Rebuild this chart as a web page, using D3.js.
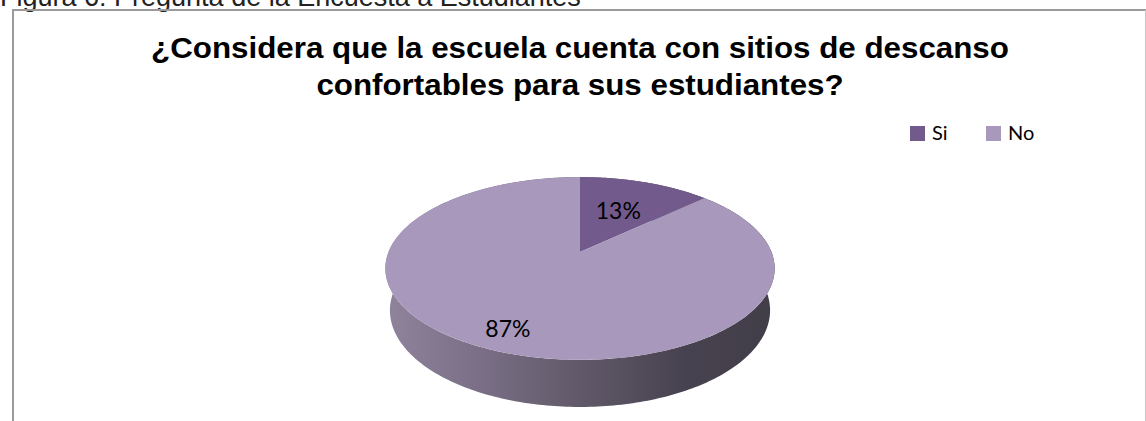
<!DOCTYPE html>
<html>
<head>
<meta charset="utf-8">
<script src="https://cdn.jsdelivr.net/npm/d3@7"></script>
<style>
  html, body { margin: 0; padding: 0; background: #fff; }
  svg { display: block; }
</style>
</head>
<body>
<svg id="chart" width="1146" height="421"></svg>
<script>
// Survey answers
const categories = ["Si", "No"];
const values = [13, 87];
const colors = ["#725a8d", "#a898bc"];
const captionText = "Figura 6: Pregunta de la Encuesta a Estudiantes";
const titleLines = ["¿Considera que la escuela cuenta con sitios de descanso", "confortables para sus estudiantes?"];

const svg = d3.select("#chart");

// Caption above the chart frame
svg.append("text")
  .attr("x", 0).attr("y", 6)
  .attr("font-family", "Liberation Sans, Arial, sans-serif")
  .attr("font-size", 27)
  .attr("fill", "#222")
  .text(captionText);

// Chart frame
svg.append("line").attr("x1", 12).attr("x2", 1146).attr("y1", 10).attr("y2", 10)
  .attr("stroke", "#9a9a9a").attr("stroke-width", 2);
svg.append("line").attr("x1", 13).attr("x2", 13).attr("y1", 9).attr("y2", 421)
  .attr("stroke", "#9a9a9a").attr("stroke-width", 2);
svg.append("line").attr("x1", 1145.5).attr("x2", 1145.5).attr("y1", 10).attr("y2", 421)
  .attr("stroke", "#c8c8c8").attr("stroke-width", 1);

// Title, slightly stretched horizontally
svg.append("g")
  .attr("transform", "translate(580,0) scale(1.08,1)")
  .selectAll("text").data(titleLines).join("text")
  .attr("x", 0)
  .attr("y", (d, i) => 58 + i * 37)
  .attr("text-anchor", "middle")
  .attr("font-family", "Liberation Sans, Arial, sans-serif")
  .attr("font-weight", "bold")
  .attr("font-size", 29)
  .attr("fill", "#000")
  .text(d => d);

// Legend
const legend = svg.append("g").attr("font-family", "Lato, 'Open Sans', sans-serif").attr("font-size", 20);
const legendX = d3.scalePoint().domain(categories).range([910, 986]);
const li = legend.selectAll("g").data(categories).join("g")
  .attr("transform", d => `translate(${legendX(d)},126)`);
li.append("rect").attr("width", 15).attr("height", 15).attr("fill", (d, i) => colors[i]);
li.append("text").attr("x", 22).attr("y", 14).attr("fill", "#000").text(d => d);

// 3D pie projection: a tilted disc viewed in perspective
const cx = 580, cy = 252;
const tilt = 27.5 * Math.PI / 180;
const dist = 4.93, focal = 944, thick = 0.249;
function proj(theta, r, h) {
  const xw = r * Math.sin(theta), zw = r * Math.cos(theta);
  const xc = xw;
  const yc = zw * Math.sin(tilt) + h * Math.cos(tilt);
  const zc = dist + zw * Math.cos(tilt) - h * Math.sin(tilt);
  return [cx + focal * xc / zc, cy - focal * yc / zc];
}

const pie = d3.pie().sort(null).startAngle(0).endAngle(2 * Math.PI);
const arcs = pie(values);

const defs = svg.append("defs");
const grad = defs.append("linearGradient").attr("id", "sideGrad")
  .attr("gradientUnits", "userSpaceOnUse")
  .attr("x1", 385).attr("x2", 775).attr("y1", 0).attr("y2", 0);
[[0, "#8f849c"], [0.25, "#796e85"], [0.5, "#615969"], [0.77, "#47424f"], [1, "#423e48"]]
  .forEach(([o, c]) => grad.append("stop").attr("offset", o).attr("stop-color", c));

// Outer wall of each slice, built from many thin quads in one path
const N = 360;
arcs.forEach((a, i) => {
  const steps = Math.max(2, Math.ceil(N * (a.endAngle - a.startAngle) / (2 * Math.PI)));
  let d = "";
  for (let s = 0; s < steps; s++) {
    const t0 = a.startAngle + (a.endAngle - a.startAngle) * s / steps;
    const t1 = a.startAngle + (a.endAngle - a.startAngle) * (s + 1) / steps;
    const p = [proj(t0, 1, 0), proj(t1, 1, 0), proj(t1, 1, -thick), proj(t0, 1, -thick)];
    d += "M" + p.map(q => q.join(",")).join("L") + "Z";
  }
  svg.append("path").attr("d", d).attr("fill", "url(#sideGrad)");
});

// Top faces
const line = d3.line();
svg.append("g").selectAll("path").data(arcs).join("path")
  .attr("d", a => {
    const steps = 200;
    const pts = [proj(0, 0, 0)];
    for (let s = 0; s <= steps; s++) {
      pts.push(proj(a.startAngle + (a.endAngle - a.startAngle) * s / steps, 1, 0));
    }
    return line(pts) + "Z";
  })
  .attr("fill", (a, i) => colors[i]);

// Percentage labels
const labelRadius = [0.55, 0.82];
svg.append("g").selectAll("text").data(arcs).join("text")
  .each(function (a, i) {
    const mid = (a.startAngle + a.endAngle) / 2;
    const p = proj(mid, labelRadius[i], 0);
    d3.select(this).attr("x", p[0]).attr("y", p[1]);
  })
  .attr("dy", "0.36em")
  .attr("text-anchor", "middle")
  .attr("font-family", "Lato, 'Open Sans', sans-serif")
  .attr("font-size", 23)
  .attr("fill", "#000")
  .text(a => a.data + "%");
</script>
</body>
</html>
